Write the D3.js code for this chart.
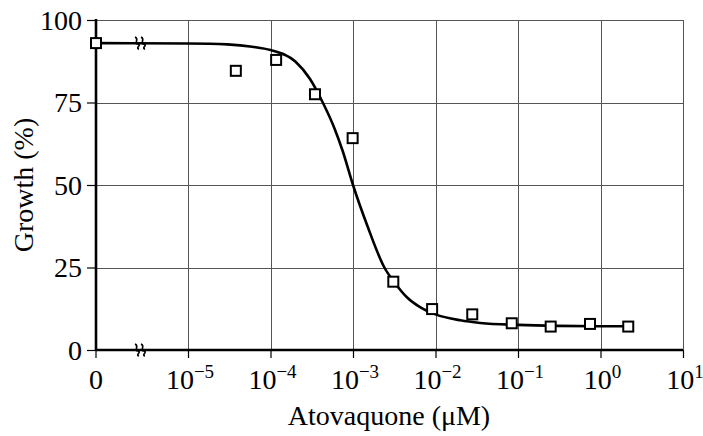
<!DOCTYPE html>
<html><head><meta charset="utf-8">
<script src="https://cdn.jsdelivr.net/npm/d3@7"></script>
<style>
html,body{margin:0;padding:0;background:#fff;}
svg{display:block;}
svg text{font-family:'Liberation Serif','Times New Roman',serif;}
</style>
</head><body><svg id="chart" width="703" height="436"></svg>
<script>
// ---- data ----
const concentrations = [0, 3.8e-5, 1.17e-4, 3.46e-4, 9.9e-4, 3.08e-3, 9.1e-3, 2.79e-2, 8.4e-2, 0.249, 0.746, 2.17];
const growth = [93.0, 84.6, 87.9, 77.5, 64.2, 20.7, 12.4, 10.8, 8.1, 7.1, 7.9, 7.1];
const fitConc = [0, 1e-5, 3e-5, 6e-5, 1e-4, 2e-4, 3e-4, 4.3e-4, 6e-4, 7.5e-4, 1e-3, 1.5e-3, 2.4e-3, 3.2e-3, 4.5e-3, 6.5e-3, 1e-2, 2e-2, 3.5e-2, 1e-1, 3e-1, 1, 2.2];
const fitGrowth = [93.0, 92.9, 92.6, 91.9, 90.9, 87.4, 82.2, 75.0, 67.0, 60.3, 50.0, 37.5, 25.0, 20.4, 16.0, 13.0, 10.8, 9.0, 8.2, 7.6, 7.3, 7.2, 7.2];
const yTicks = [0, 25, 50, 75, 100];
const xTickExponents = [-5, -4, -3, -2, -1, 0, 1];
const xTitle = "Atovaquone (μM)";
const yTitle = "Growth (%)";

// ---- layout ----
const W = 703, H = 436;
const pLeft = 96, pRight = 683, pTop = 20, pBottom = 350;
const logStart = 188;     // pixel of 10^-5
const breakX = 140;       // axis break position
const fs = 28, supFs = 19;
const FONT = "'Liberation Serif','Times New Roman',serif";

const svg = d3.select("#chart");
svg.append("rect").attr("width", W).attr("height", H).attr("fill", "#fff");

const y = d3.scaleLinear().domain([0, 100]).range([pBottom, pTop]);
const xLog = d3.scaleLog().domain([1e-5, 10]).range([logStart, pRight]);
const xZero = d3.scalePoint().domain([0]).range([pLeft, pLeft]);
const x = c => c === 0 ? xZero(0) : xLog(c);

const decades = xTickExponents.map(e => Math.pow(10, e));

// grid
const grid = svg.append("g").attr("stroke", "#555").attr("stroke-width", 1).attr("shape-rendering", "crispEdges");
grid.selectAll("line.h").data(yTicks.filter(v => v > 0)).join("line")
  .attr("x1", pLeft).attr("x2", pRight)
  .attr("y1", d => Math.round(y(d)) + 0.5).attr("y2", d => Math.round(y(d)) + 0.5);
grid.selectAll("line.v").data(decades).join("line")
  .attr("x1", d => Math.round(xLog(d)) + 0.5).attr("x2", d => Math.round(xLog(d)) + 0.5)
  .attr("y1", pTop).attr("y2", pBottom);

// y axis ticks + labels
const yAxis = d3.axisLeft(y).tickValues(yTicks).tickSize(9).tickPadding(5).tickFormat(d3.format("d"));
const gy = svg.append("g").attr("transform", `translate(${pLeft},0)`).call(yAxis)
  .attr("font-family", FONT).attr("font-size", fs);
gy.select(".domain").remove();
gy.selectAll(".tick line").attr("stroke", "#000").attr("stroke-width", 1.2);
gy.selectAll(".tick text").attr("font-size", fs).attr("font-family", FONT).attr("fill", "#000").attr("dy", "0.33em");

// x axis ticks
const xAxis = d3.axisBottom(xLog).tickValues(decades).tickSize(8).tickFormat("");
const gx = svg.append("g").attr("transform", `translate(0,${pBottom})`).call(xAxis);
gx.select(".domain").remove();
gx.selectAll(".tick line").attr("stroke", "#000").attr("stroke-width", 1.2);
svg.append("line").attr("x1", x(0)).attr("x2", x(0)).attr("y1", pBottom).attr("y2", pBottom + 8)
  .attr("stroke", "#000").attr("stroke-width", 1.2);

// x tick labels
const labY = 389;
svg.append("text").attr("x", x(0)).attr("y", labY).attr("text-anchor", "middle")
  .attr("font-family", FONT).attr("font-size", fs).text("0");
xTickExponents.forEach((e, i) => {
  const t = svg.append("text").attr("x", xLog(decades[i]) + 2).attr("y", labY)
    .attr("text-anchor", "middle").attr("font-family", FONT).attr("font-size", fs);
  t.append("tspan").text("10");
  t.append("tspan").attr("font-size", supFs).attr("dy", -11).text(e < 0 ? "\u2212" + Math.abs(e) : String(e));
});

// axis lines
svg.append("line").attr("x1", pLeft).attr("x2", pLeft).attr("y1", pTop - 1).attr("y2", pBottom + 1)
  .attr("stroke", "#000").attr("stroke-width", 2.6);
svg.append("line").attr("x1", pLeft).attr("x2", pRight).attr("y1", pBottom).attr("y2", pBottom)
  .attr("stroke", "#000").attr("stroke-width", 2.6);

// fitted curve
const fit = fitConc.map((c, i) => ({c, v: fitGrowth[i]}));
svg.append("path").datum(fit)
  .attr("d", d3.line().x(d => x(d.c)).y(d => y(d.v)).curve(d3.curveMonotoneX))
  .attr("fill", "none").attr("stroke", "#000").attr("stroke-width", 2.6);

// break marks
function breakMark(cx, cy) {
  const g = svg.append("g").attr("fill", "none").attr("stroke", "#000").attr("stroke-width", 1.6);
  [-3, 3].forEach(off => {
    const x0 = cx + off;
    g.append("path").attr("d",
      `M${x0 - 2},${cy - 6} C${x0 + 3},${cy - 4} ${x0 - 4},${cy + 1} ${x0 + 1},${cy + 1} M${x0 + 1},${cy + 1} C${x0 + 5},${cy + 2} ${x0 - 2},${cy + 5} ${x0 + 2},${cy + 6}`);
  });
}
breakMark(breakX, y(fitGrowth[0]));
breakMark(breakX, pBottom);

// data points
const pts = concentrations.map((c, i) => ({c, v: growth[i]}));
svg.append("g").selectAll("rect").data(pts).join("rect")
  .attr("x", d => x(d.c) - 5).attr("y", d => y(d.v) - 5)
  .attr("width", 10).attr("height", 10)
  .attr("fill", "#fff").attr("stroke", "#000").attr("stroke-width", 2);

// titles
svg.append("text").attr("x", 389).attr("y", 425).attr("text-anchor", "middle")
  .attr("font-family", FONT).attr("font-size", fs).text(xTitle);
svg.append("text").attr("transform", `translate(33,${(pTop + pBottom) / 2}) rotate(-90)`)
  .attr("text-anchor", "middle").attr("font-family", FONT).attr("font-size", fs).text(yTitle);
</script>
</body></html>
